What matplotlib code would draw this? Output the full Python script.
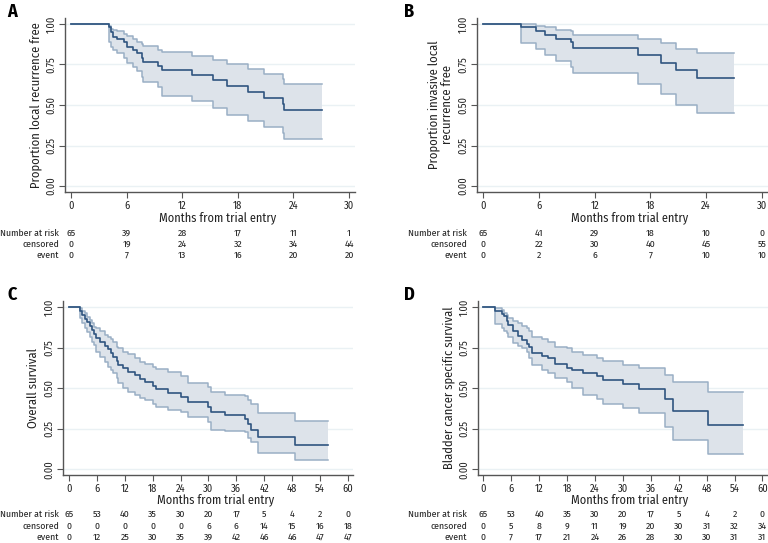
import numpy as np
import matplotlib
matplotlib.use("Agg")
import matplotlib.pyplot as plt
from matplotlib import font_manager
from matplotlib.transforms import blended_transform_factory

# pick a condensed sans if one is around, else Liberation Sans
installed = {f.name for f in font_manager.fontManager.ttflist}
FONT = 'Liberation Sans'
for cand in ['Fira Sans Condensed', 'DejaVu Sans Condensed', 'Roboto Condensed',
             'Liberation Sans Narrow', 'Liberation Sans']:
    if cand in installed:
        FONT = cand
        break
plt.rcParams['font.family'] = [FONT, 'DejaVu Sans']

# ---- data ----
# A: local recurrence free
a_time = [0, 4.10, 4.31, 4.57, 4.99, 5.72, 6.08, 6.72, 7.08, 7.62, 7.80, 9.42, 9.78,
          13.02, 15.35, 16.79, 19.13, 20.86, 22.83, 23.01]
a_surv = [1, .979, .948, .917, .907, .886, .861, .841, .820, .793, .766, .741, .716,
          .685, .654, .617, .582, .545, .507, .470]
a_low = [1, .886, .859, .839, .818, .789, .762, .735, .710, .673, .644, .613, .555,
         .524, .482, .437, .400, .362, .327, .292]
a_up = [1, .990, .969, .965, .955, .938, .925, .905, .890, .876, .865, .840, .828,
        .803, .776, .752, .720, .690, .660, .627]
a_end = 27.04
a_risk = [65, 39, 28, 17, 11, 1]
a_cens = [0, 19, 24, 32, 34, 44]
a_event = [0, 7, 13, 16, 20, 20]

# B: invasive local recurrence free
b_time = [0, 4.09, 5.70, 6.67, 7.81, 9.43, 9.71, 16.70, 19.10, 20.75, 22.98]
b_surv = [1, .983, .959, .934, .907, .886, .851, .810, .762, .716, .667]
b_low = [1, .882, .845, .810, .772, .735, .700, .627, .565, .503, .449]
b_up = [1, .998, .990, .979, .965, .955, .934, .907, .880, .845, .818]
b_end = 26.99
b_risk = [65, 41, 29, 18, 10, 0]
b_cens = [0, 22, 30, 40, 45, 55]
b_event = [0, 2, 6, 7, 10, 10]

# C: overall survival
c_time = [0, 2.30, 2.80, 3.37, 3.95, 4.45, 4.95, 5.38, 5.88, 6.60, 7.68, 8.40, 8.97,
          9.47, 10.41, 10.55, 11.63, 12.70, 14.14, 15.21, 16.29, 18.08, 18.80, 21.31,
          24.18, 25.62, 29.93, 30.64, 33.51, 37.82, 38.54, 39.25, 40.69, 48.58]
c_surv = [1, .977, .952, .928, .907, .886, .860, .833, .808, .784, .763, .740, .716,
          .695, .669, .644, .624, .603, .583, .558, .538, .515, .494, .469,
          .449, .414, .387, .356, .335, .309, .281, .241, .202, .150]
c_low = [1, .932, .901, .870, .850, .819, .788, .767, .726, .695, .664, .634, .613,
         .593, .562, .531, .500, .479, .459, .442, .428, .401, .387, .366,
         .356, .325, .294, .243, .236, .232, .191, .170, .098, .057]
c_up = [1, .994, .977, .963, .942, .921, .901, .880, .870, .853, .829, .814, .804,
        .788, .757, .746, .726, .710, .685, .660, .648, .634, .617, .603,
        .578, .531, .510, .475, .459, .455, .428, .401, .346, .298]
c_end = 55.76
c_risk = [65, 53, 40, 35, 30, 20, 17, 5, 4, 2, 0]
c_cens = [0, 0, 0, 0, 0, 6, 6, 14, 15, 16, 18]
c_event = [0, 12, 25, 30, 35, 39, 42, 46, 46, 47, 47]

# D: bladder cancer specific survival
d_time = [0, 2.52, 3.95, 4.45, 5.03, 5.24, 6.46, 7.53, 8.25, 9.33, 9.90, 10.40, 12.55,
          13.99, 15.42, 17.93, 19.00, 21.51, 24.38, 25.81, 30.11, 33.56, 39.08, 40.72, 48.39]
d_surv = [1, .977, .961, .946, .915, .890, .853, .822, .800, .775, .755, .720, .699,
          .685, .648, .627, .611, .592, .575, .549, .524, .493, .432, .360, .274]
d_low = [1, .895, .870, .855, .839, .819, .778, .760, .747, .726, .685, .644, .613,
         .593, .566, .537, .500, .459, .432, .403, .380, .349, .263, .181, .095]
d_up = [1, .994, .983, .963, .952, .936, .915, .901, .886, .870, .853, .814, .802,
        .788, .757, .747, .726, .706, .689, .669, .644, .624, .583, .541, .479]
d_end = 55.78
d_risk = [65, 53, 40, 35, 30, 20, 17, 5, 4, 2, 0]
d_cens = [0, 5, 8, 9, 11, 19, 20, 30, 31, 32, 34]
d_event = [0, 7, 17, 21, 24, 26, 28, 30, 30, 31, 31]

KM_COL = '#2f5580'
CI_COL = '#9aafc5'
FILL_COL = '#dde3ea'
TXT = '#222222'

W, H = 768, 543
fig = plt.figure(figsize=(W / 100, H / 100), dpi=100)


def px_axes(left, top, right, bottom):
    return fig.add_axes([left / W, 1 - bottom / H, (right - left) / W, (bottom - top) / H])


def panel(box, xlim, ylim, t, s, lo, up, end, xmax, ylabel, letter, letter_xy,
          risk, cens, event, label_x, rows_y, xlabel_xy):
    ax = px_axes(*box)
    t = np.append(t, end)
    s = np.append(s, s[-1])
    lo = np.append(lo, lo[-1])
    up = np.append(up, up[-1])
    ax.fill_between(t, lo, up, step='post', color=FILL_COL, lw=0)
    ax.step(t, lo, where='post', color=CI_COL, lw=1.1)
    ax.step(t, up, where='post', color=CI_COL, lw=1.1)
    ax.step(t, s, where='post', color=KM_COL, lw=1.2)
    ticks = np.arange(0, xmax + 1, 6)
    ax.set_xlim(*xlim)
    ax.set_ylim(*ylim)
    ax.set_xticks(ticks)
    ax.set_yticks([0, .25, .5, .75, 1])
    ax.set_yticklabels(['0.00', '0.25', '0.50', '0.75', '1.00'], rotation=90, va='center')
    for y in [0, .25, .5, .75, 1]:
        ax.axhline(y, color='#eaf1f4', lw=1, zorder=0)
    for sp in ['top', 'right']:
        ax.spines[sp].set_visible(False)
    for sp in ['left', 'bottom']:
        ax.spines[sp].set_color('#555555')
        ax.spines[sp].set_linewidth(1)
    ax.tick_params(direction='out', length=4, width=0.8, color='#555555',
                   labelsize=7.5, labelcolor=TXT, pad=2)
    ax.set_ylabel(ylabel, fontsize=9, color=TXT, labelpad=3, linespacing=1.1)
    fig.text(xlabel_xy[0] / W, 1 - xlabel_xy[1] / H, 'Months from trial entry',
             ha='center', va='center', fontsize=8.8, color=TXT)
    fig.text(letter_xy[0] / W, 1 - letter_xy[1] / H, letter, fontsize=13,
             fontweight='bold', ha='left', va='center', color='black')
    tr = blended_transform_factory(ax.transData, fig.transFigure)
    names = ['Number at risk', 'censored', 'event']
    for name, vals, ry in zip(names, [risk, cens, event], rows_y):
        fig.text(label_x / W, 1 - ry / H, name, ha='right', va='center',
                 fontsize=7, color=TXT)
        for x, v in zip(ticks, vals):
            ax.text(x, 1 - ry / H, str(v), transform=tr, ha='center', va='center',
                    fontsize=7, color=TXT)
    return ax


panel((65, 18, 355, 192), (-0.65, 30.64), (-0.037, 1.037), a_time, a_surv, a_low, a_up,
      a_end, 30, 'Proportion local recurrence free', 'A', (7, 12),
      a_risk, a_cens, a_event, 59, (233, 244, 255), (218, 218))
panel((477, 18, 768, 192), (-0.645, 30.65), (-0.037, 1.037), b_time, b_surv, b_low, b_up,
      b_end, 30, 'Proportion invasive local\nrecurrence free', 'B', (404, 12),
      b_risk, b_cens, b_event, 467, (233, 244, 255), (630, 218))
panel((63, 301, 353, 475), (-1.29, 61.1), (-0.035, 1.039), c_time, c_surv, c_low, c_up,
      c_end, 60, 'Overall survival', 'C', (7, 295),
      c_risk, c_cens, c_event, 59, (514, 526, 537), (216, 499.5))
panel((478, 301, 768, 475), (-1.14, 61.2), (-0.035, 1.039), d_time, d_surv, d_low, d_up,
      d_end, 60, 'Bladder cancer specific survival', 'D', (404, 295),
      d_risk, d_cens, d_event, 467, (514, 526, 537), (630, 499.5))

fig.savefig('out.png', dpi=100)
